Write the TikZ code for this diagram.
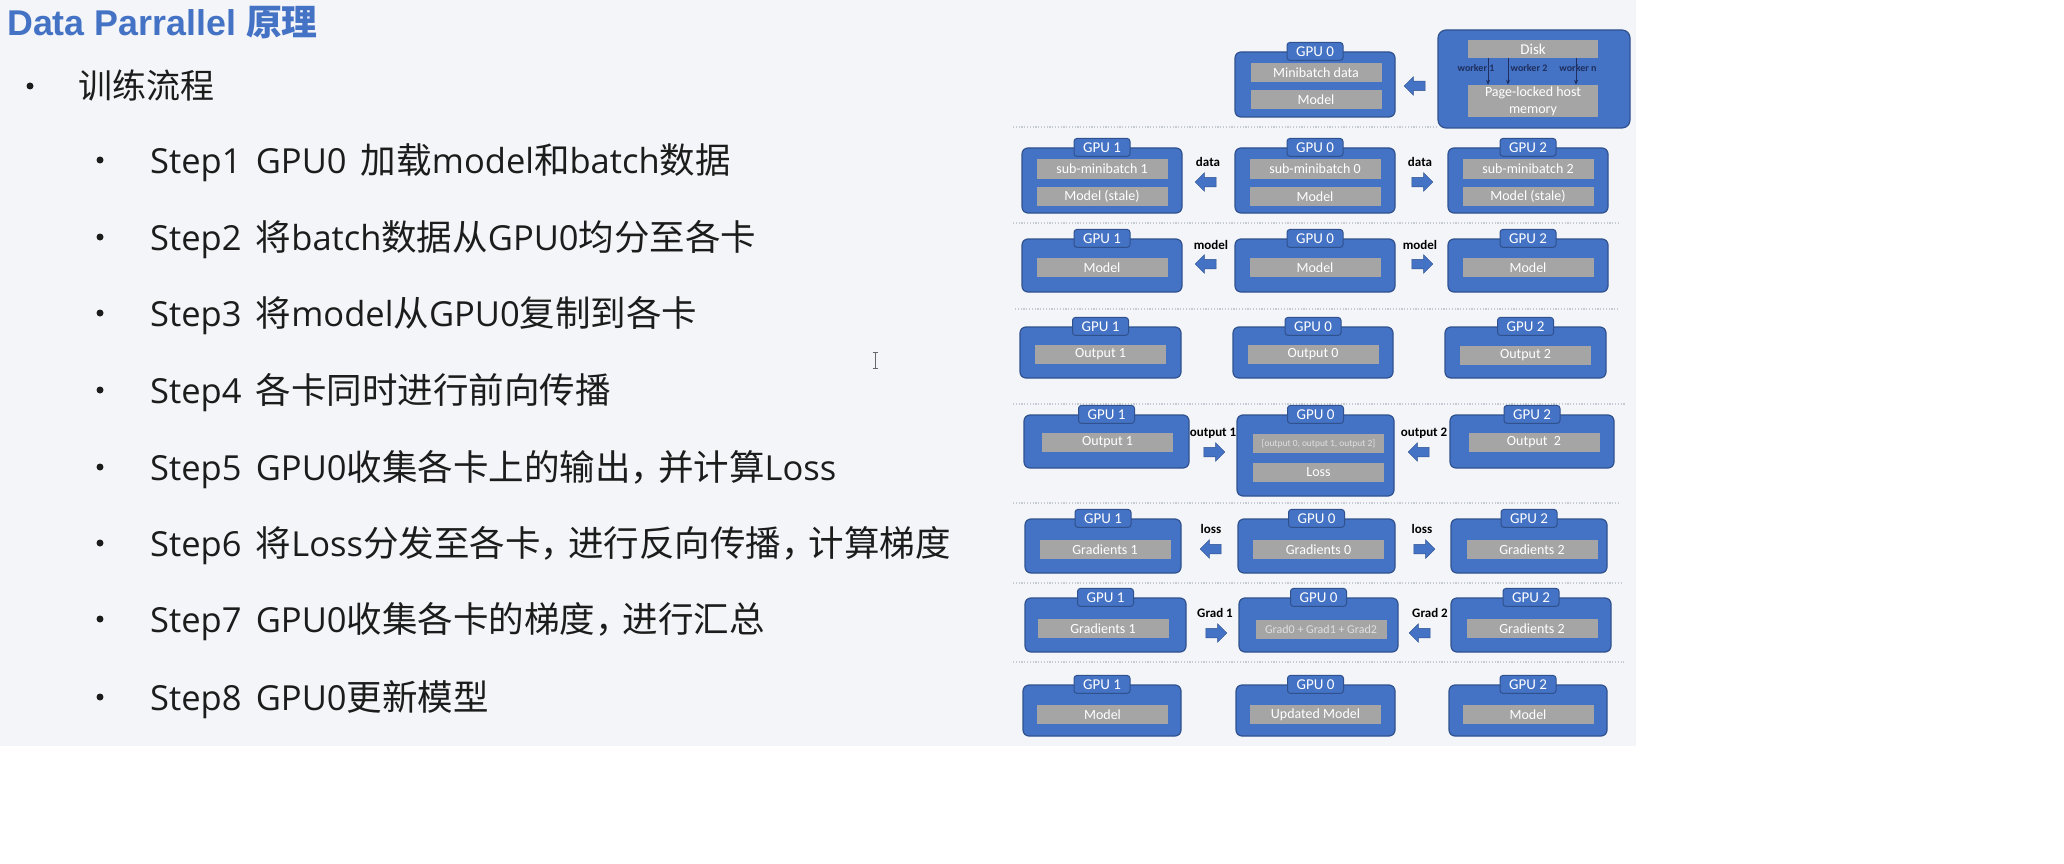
\documentclass[tikz,border=0pt]{standalone}
\usepackage{fontspec}
\setmainfont{Carlito}
\newfontfamily\lat[WordSpace=1.6]{Open Sans}
\newfontfamily\cjk{Noto Sans CJK SC}
\newfontfamily\ttl{Liberation Sans}
\usetikzlibrary{shapes.arrows,arrows.meta}
\definecolor{bg}{HTML}{F4F5F8}
\definecolor{boxblue}{HTML}{4472C4}
\definecolor{boxedge}{HTML}{2F528F}
\definecolor{innergray}{HTML}{A5A5A5}
\definecolor{titleblue}{HTML}{4472C4}
\definecolor{sepgray}{HTML}{C6CAD3}
\definecolor{navy}{HTML}{1F2F5F}
\definecolor{txt}{HTML}{1C1C1C}
\newcommand{\C}[1]{{\fontsize{35.5}{40}\selectfont\cjk #1}}
\newcommand{\cm}{\kern-8pt}
\newcommand{\gpubox}[6]{%
  \node[gpu, minimum width=#4, minimum height=#5] (#1) at (#2,#3) {};
  \node[tabbox] (#1t) at (#1.north) {#6};}
\begin{document}
\begin{tikzpicture}[x=1pt,y=-1pt,
  item/.style={anchor=base west, inner sep=0pt, text=txt, font=\fontsize{34.5}{40}\selectfont\lat},
  bul/.style={circle, fill=txt, inner sep=0pt, minimum size=7pt},
  gpu/.style={draw=boxedge, fill=boxblue, line width=1.2pt, rounded corners=6pt, inner sep=0pt},
  tabbox/.style={draw=boxedge, fill=boxblue, line width=1pt, rounded corners=3pt, inner sep=0pt,
    minimum width=56pt, minimum height=18pt, text=white, font=\fontsize{15}{16}\selectfont},
  innerbox/.style={fill=innergray, inner sep=0pt, minimum width=131pt, minimum height=19pt,
    text=white, font=\fontsize{14}{15}\selectfont},
  lbl/.style={inner sep=0pt, text=black, font=\fontsize{13}{14}\selectfont\bfseries},
  rar/.style={single arrow, draw=boxedge, fill=boxblue, line width=0.5pt, minimum height=21pt,
    inner xsep=0pt, inner ysep=4.5pt, single arrow head extend=4.5pt, single arrow head indent=0pt},
  lar/.style={rar, shape border rotate=180},
  sepline/.style={sepgray, line width=1.2pt, dash pattern=on 1.2pt off 1.6pt},
  wk/.style={navy, line width=0.8pt, -{Stealth[length=5pt,width=4pt]}},
  wkl/.style={inner sep=0pt, text=navy, font=\fontsize{10}{11}\selectfont\bfseries}
]
\useasboundingbox (0,0) rectangle (2064,864);
\fill[white] (0,0) rectangle (2064,864);
\fill[bg] (0,0) rectangle (1636,746);

% title
\node[anchor=base west, inner sep=0pt, text=titleblue, font=\fontsize{35.8}{42}\selectfont\ttl\bfseries] (title) at (7,36) {Data Parrallel {\cjk\bfseries 原理}};

% list
\node[bul] (b0) at (30,86) {};
\node[item] (l0) at (78,99) {{\fontsize{34}{40}\selectfont\cjk 训练流程}};
\node[bul] (b1) at (100,160) {};
\node[item] (l1) at (150,173) {Step1 GPU0 \C{加载}model\C{和}batch\C{数据}};
\node[bul] (b2) at (100,237) {};
\node[item] (l2) at (150,250) {Step2 \C{将}batch\C{数据从}GPU0\C{均分至各卡}};
\node[bul] (b3) at (100,313) {};
\node[item] (l3) at (150,326) {Step3 \C{将}model\C{从}GPU0\C{复制到各卡}};
\node[bul] (b4) at (100,390) {};
\node[item] (l4) at (150,403) {Step4 \C{各卡同时进行前向传播}};
\node[bul] (b5) at (100,467) {};
\node[item] (l5) at (150,480) {Step5 GPU0\C{收集各卡上的输出，\cm 并计算}Loss};
\node[bul] (b6) at (100,543) {};
\node[item] (l6) at (150,556) {Step6 \C{将}Loss\C{分发至各卡，\cm 进行反向传播，\cm 计算梯度}};
\node[bul] (b7) at (100,619) {};
\node[item] (l7) at (150,632) {Step7 GPU0\C{收集各卡的梯度，\cm 进行汇总}};
\node[bul] (b8) at (100,697) {};
\node[item] (l8) at (150,710) {Step8 GPU0\C{更新模型}};

% text cursor
\draw[gray!80!black, line width=0.8pt] (875,352) -- (875,368) (872.5,352) -- (877.5,352) (872.5,368) -- (877.5,368);

% separators
\draw[sepline] (1013,127) -- (1436,127);
\draw[sepline] (1013,223) -- (1618,223);
\draw[sepline] (1015,309) -- (1618,309);
\draw[sepline] (1013,404) -- (1625,404);
\draw[sepline] (1013,503) -- (1618,503);
\draw[sepline] (1013,583) -- (1621,583);
\draw[sepline] (1013,662) -- (1624,662);

% row 0
\gpubox{r0g0}{1315}{84.5}{160}{65}{GPU 0}
\node[innerbox] (r0a) at (1316,73) {Minibatch data};
\node[innerbox] (r0b) at (1316,100) {Model};
\node[gpu, rounded corners=8pt, minimum width=192, minimum height=98] (diskbox) at (1534,79) {};
\node[innerbox, minimum width=130pt, minimum height=18pt, font=\fontsize{15}{16}\selectfont] (disk) at (1533,49) {Disk};
\node[innerbox, minimum width=130pt, minimum height=32pt, align=center, font=\fontsize{14}{17}\selectfont] (plm) at (1533,101) {Page-locked host\\memory};
\node[wkl] (w1) at (1476,68) {worker 1};
\node[wkl] (w2) at (1529,68) {worker 2};
\node[wkl] (w3) at (1578,68) {worker n};
\draw[wk] ([xshift=-45pt]disk.south) -- ([xshift=-45pt]plm.north);
\draw[wk] ([xshift=-25pt]disk.south) -- ([xshift=-25pt]plm.north);
\draw[wk] ([xshift=43pt]disk.south) -- ([xshift=43pt]plm.north);
\node[lar] (a0) at (1417,86) {};

% row 1
\gpubox{r1g1}{1102}{180.5}{160}{65}{GPU 1}
\gpubox{r1g0}{1315}{180.5}{160}{65}{GPU 0}
\gpubox{r1g2}{1528}{180.5}{160}{65}{GPU 2}
\node[innerbox] (r1a1) at (1102,169) {sub-minibatch 1};
\node[innerbox] (r1b1) at (1102,196.5) {Model (stale)};
\node[innerbox] (r1a0) at (1315,169) {sub-minibatch 0};
\node[innerbox] (r1b0) at (1315,196.5) {Model};
\node[innerbox] (r1a2) at (1528,169) {sub-minibatch 2};
\node[innerbox] (r1b2) at (1528,196.5) {Model (stale)};
\node[lbl] (r1l1) at (1208,162) {data};
\node[lar] (r1ar1) at (1208,182) {};
\node[lbl] (r1l2) at (1420,162) {data};
\node[rar] (r1ar2) at (1420,182) {};

% row 2
\gpubox{r2g1}{1102}{265.5}{160}{53}{GPU 1}
\gpubox{r2g0}{1315}{265.5}{160}{53}{GPU 0}
\gpubox{r2g2}{1528}{265.5}{160}{53}{GPU 2}
\node[innerbox] (r2m1) at (1102,267.5) {Model};
\node[innerbox] (r2m0) at (1315,267.5) {Model};
\node[innerbox] (r2m2) at (1528,267.5) {Model};
\node[lbl] (r2l1) at (1211,245) {model};
\node[lar] (r2ar1) at (1208,264) {};
\node[lbl] (r2l2) at (1420,245) {model};
\node[rar] (r2ar2) at (1420,264) {};

% row 3
\gpubox{r3g1}{1100.5}{352.5}{161}{51}{GPU 1}
\gpubox{r3g0}{1313}{352.5}{160}{51}{GPU 0}
\gpubox{r3g2}{1525.5}{352.5}{161}{51}{GPU 2}
\node[innerbox] (r3o1) at (1100.5,354.5) {Output 1};
\node[innerbox] (r3o0) at (1313,354.5) {Output 0};
\node[innerbox] (r3o2) at (1525.5,355.5) {Output 2};

% row 4
\gpubox{r4g1}{1106.5}{441.5}{165}{53}{GPU 1}
\gpubox{r4g0}{1315.5}{455.5}{157}{81}{GPU 0}
\gpubox{r4g2}{1532}{441.5}{164}{53}{GPU 2}
\node[innerbox] (r4o1) at (1107.5,442.5) {Output 1};
\node[innerbox, text=white!88!black, font=\fontsize{9.4}{10}\selectfont] (r4c) at (1318.5,443.5) {[output 0, output 1, output 2]};
\node[innerbox] (r4loss) at (1318.5,472.5) {Loss};
\node[innerbox] (r4o2) at (1534,442.5) {Output\ \ 2};
\node[lbl] (r4l1) at (1213,433) {output 1};
\node[rar] (r4ar1) at (1212,452) {};
\node[lbl] (r4l2) at (1424,433) {output 2};
\node[lar] (r4ar2) at (1421,452) {};

% row 5
\gpubox{r5g1}{1103}{546}{156}{54}{GPU 1}
\gpubox{r5g0}{1316.5}{546}{157}{54}{GPU 0}
\gpubox{r5g2}{1529}{546}{156}{54}{GPU 2}
\node[innerbox] (r5d1) at (1105,549.5) {Gradients 1};
\node[innerbox] (r5d0) at (1318.5,549.5) {Gradients 0};
\node[innerbox] (r5d2) at (1532,549.5) {Gradients 2};
\node[lbl] (r5l1) at (1211,529) {loss};
\node[lar] (r5ar1) at (1213,549) {};
\node[lbl] (r5l2) at (1422,529) {loss};
\node[rar] (r5ar2) at (1422,549) {};

% row 6
\gpubox{r6g1}{1105.5}{625}{161}{54}{GPU 1}
\gpubox{r6g0}{1318.5}{625}{159}{54}{GPU 0}
\gpubox{r6g2}{1531}{625}{160}{54}{GPU 2}
\node[innerbox] (r6d1) at (1103,628.5) {Gradients 1};
\node[innerbox, text=white!88!black, font=\fontsize{12}{13}\selectfont] (r6sum) at (1321,629.5) {Grad0 + Grad1 + Grad2};
\node[innerbox] (r6d2) at (1532,628.5) {Gradients 2};
\node[lbl] (r6l1) at (1215,613) {Grad 1};
\node[rar] (r6ar1) at (1214,633) {};
\node[lbl] (r6l2) at (1430,613) {Grad 2};
\node[lar] (r6ar2) at (1422,633) {};

% row 7
\gpubox{r7g1}{1102}{710.5}{158}{51}{GPU 1}
\gpubox{r7g0}{1315.5}{710.5}{159}{51}{GPU 0}
\gpubox{r7g2}{1528}{710.5}{158}{51}{GPU 2}
\node[innerbox] (r7m1) at (1102.5,714.5) {Model};
\node[innerbox] (r7m0) at (1315.5,714.5) {Updated Model};
\node[innerbox] (r7m2) at (1528,714.5) {Model};
\end{tikzpicture}
\end{document}
